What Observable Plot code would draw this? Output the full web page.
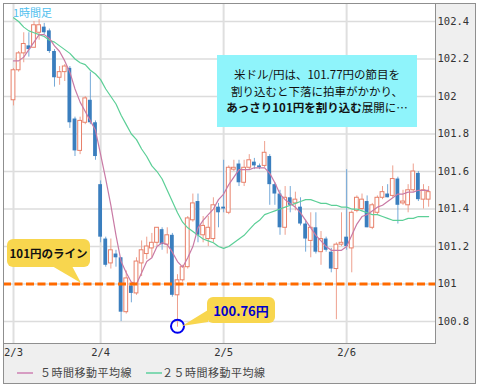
<!DOCTYPE html>
<html><head><meta charset="utf-8">
<script src="https://cdn.jsdelivr.net/npm/d3@7"></script>
<script src="https://cdn.jsdelivr.net/npm/@observablehq/plot@0.6"></script>
<style>
body{margin:0;background:#fff;}
#wrap{position:relative;width:478px;height:385px;overflow:hidden;}
#panel{position:absolute;left:3px;top:3px;width:473px;height:381px;box-sizing:border-box;border:1px solid #8f8f8f;background:#efefef;}
#chart{position:absolute;left:0;top:0;}
.jp{font-family:"Noto Sans CJK JP","Noto Sans",sans-serif;}
#tf{position:absolute;left:13px;top:4px;font-size:11px;color:#4fc0ee;}
#cyan{position:absolute;left:217px;top:55px;width:200px;height:72px;background:#8ff4fb;display:flex;flex-direction:column;justify-content:center;align-items:center;font-size:11.5px;line-height:16.8px;color:#111;}
.yb{position:absolute;background:#f8d64e;border-radius:6px;display:flex;align-items:center;justify-content:center;font-weight:bold;}
#y1{left:7px;top:239px;width:83px;height:28px;font-size:11.5px;color:#111;}
#y2{left:207px;top:297px;width:68px;height:26px;font-size:13px;color:#0000cc;}
#ptr{position:absolute;left:0;top:0;}
.lg{position:absolute;top:364px;font-size:11px;color:#444;letter-spacing:0.5px;line-height:16px;}
.ll{position:absolute;top:372px;height:1.5px;width:16px;}
</style></head>
<body>
<div id="wrap">
  <div id="panel"></div>
  <div id="chart"></div>
  <div id="tf" class="jp">1時間足</div>
  <svg id="ptr" width="478" height="385">
    <polygon points="52,266 72,266 81,283" fill="#f8d64e"/>
    <polygon points="208,310 208,322 182,326" fill="#f8d64e"/>
  </svg>
  <div id="cyan" class="jp">
    <div>米ドル/円は、101.77円の節目を</div>
    <div>割り込むと下落に拍車がかかり、</div>
    <div><b>あっさり101円を割り込む</b>展開に…</div>
  </div>
  <div id="y1" class="yb jp">101円のライン</div>
  <div id="y2" class="yb jp">100.76円</div>
  <div class="ll" style="left:17px;background:#d69cc2;"></div>
  <div class="lg jp" style="left:40px;">５時間移動平均線</div>
  <div class="ll" style="left:146px;background:#82d8b2;"></div>
  <div class="lg jp" style="left:162px;">２５時間移動平均線</div>
</div>
<script>
// Hourly candles, USD/JPY, from 2/3 07:00
const opens  = [101.98,102.14,102.23,102.27,102.26,102.34,102.37,102.35,102.24,102.10,102.13,102.15,101.88,101.71,101.86,101.98,101.86,101.53,101.24,101.11,101.16,101.14,100.85,100.99,100.95,101.11,101.16,101.19,101.22,101.29,101.21,101.26,100.94,101.02,101.09,101.34,101.44,101.26,101.24,101.24,101.41,101.41,101.38,101.61,101.64,101.54,101.62,101.65,101.63,101.63,101.68,101.53,101.48,101.30,101.46,101.43,101.41,101.32,101.23,101.30,101.17,101.24,101.17,101.08,101.21,101.25,101.19,101.39,101.40,101.44,101.30,101.38,101.46,101.48,101.47,101.56,101.43,101.42,101.50,101.59,101.45,101.45];
const highs  = [102.15,102.24,102.34,102.34,102.40,102.41,102.39,102.36,102.25,102.16,102.17,102.16,101.89,101.89,102.00,102.13,101.87,101.55,101.25,101.24,101.18,101.14,101.07,101.00,101.14,101.23,101.25,101.27,101.30,101.30,101.30,101.27,101.05,101.10,101.36,101.48,101.48,101.36,101.36,101.46,101.43,101.66,101.63,101.66,101.66,101.66,101.69,101.67,101.64,101.76,101.69,101.54,101.50,101.52,101.52,101.49,101.46,101.34,101.38,101.38,101.28,101.25,101.19,101.22,101.38,101.61,101.39,101.47,101.48,101.47,101.43,101.47,101.52,101.53,101.63,101.57,101.50,101.53,101.64,101.60,101.53,101.52];
const lows   = [101.95,102.13,102.18,102.21,102.26,102.30,102.33,102.23,102.05,102.06,102.08,101.83,101.68,101.69,101.85,101.85,101.66,101.22,101.09,101.08,101.09,100.80,100.84,100.90,100.94,101.04,101.13,101.14,101.20,101.18,101.16,100.93,100.77,101.01,101.08,101.33,101.22,101.22,101.20,101.22,101.30,101.38,101.37,101.60,101.52,101.52,101.61,101.61,101.61,101.62,101.42,101.42,101.26,101.26,101.38,101.39,101.31,101.17,101.14,101.16,101.10,101.17,101.06,100.81,101.20,101.18,101.06,101.38,101.39,101.30,101.29,101.37,101.45,101.46,101.46,101.32,101.42,101.38,101.49,101.44,101.40,101.41];
const closes = [102.14,102.23,102.28,102.25,102.38,102.38,102.34,102.24,102.10,102.13,102.16,101.86,101.71,101.87,101.99,101.86,101.68,101.25,101.10,101.18,101.14,100.85,101.03,100.95,101.12,101.18,101.20,101.22,101.30,101.21,101.26,100.94,101.02,101.09,101.35,101.43,101.26,101.31,101.30,101.42,101.38,101.40,101.62,101.62,101.54,101.62,101.66,101.63,101.62,101.70,101.53,101.48,101.30,101.46,101.42,101.45,101.32,101.24,101.30,101.17,101.24,101.18,101.08,101.21,101.22,101.20,101.38,101.46,101.45,101.30,101.42,101.46,101.49,101.46,101.56,101.42,101.44,101.50,101.60,101.45,101.50,101.49];
const ma5    = [102.19,102.19,102.21,102.25,102.29,102.33,102.33,102.31,102.27,102.24,102.19,102.13,102.04,101.97,101.92,101.87,101.82,101.69,101.56,101.42,101.26,101.12,101.06,101.01,101.00,101.06,101.12,101.14,101.20,101.22,101.21,101.17,101.12,101.09,101.14,101.20,101.30,101.34,101.37,101.40,101.45,101.48,101.53,101.57,101.61,101.61,101.61,101.62,101.62,101.62,101.59,101.54,101.48,101.45,101.43,101.41,101.38,101.34,101.30,101.26,101.23,101.20,101.18,101.18,101.18,101.20,101.26,101.32,101.36,101.37,101.39,101.41,101.42,101.44,101.46,101.48,101.48,101.49,101.49,101.50,101.50,101.50];
const ma25   = [102.42,102.40,102.37,102.35,102.34,102.33,102.32,102.30,102.29,102.27,102.25,102.23,102.20,102.18,102.17,102.14,102.12,102.09,102.04,102.00,101.96,101.90,101.85,101.80,101.77,101.72,101.68,101.63,101.60,101.56,101.50,101.44,101.38,101.33,101.30,101.28,101.26,101.24,101.23,101.22,101.20,101.19,101.20,101.22,101.24,101.26,101.29,101.32,101.34,101.37,101.38,101.39,101.40,101.41,101.42,101.43,101.44,101.45,101.45,101.44,101.43,101.43,101.42,101.42,101.41,101.41,101.40,101.40,101.39,101.38,101.37,101.37,101.36,101.35,101.34,101.34,101.34,101.35,101.35,101.36,101.36,101.36];
const dayTickIndex = [0, 17, 41, 65];
const dayLabels = ["2/3", "2/4", "2/5", "2/6"];
const yTicks = [100.8, 101, 101.2, 101.4, 101.6, 101.8, 102, 102.2, 102.4];
const lineLevel = 101;
const lowMarker = [{i: 32, v: 100.775}];

const bars = opens.map((o, i) => ({i, o, h: highs[i], l: lows[i], c: closes[i], up: closes[i] >= o}));
const upBars = bars.filter(d => d.up);
const dnBars = bars.filter(d => !d.up);
const ma5Data = ma5.map((v, i) => ({i, v}));
const ma25Data = ma25.map((v, i) => ({i, v}));
const hw = 0.37;

const chart = Plot.plot({
  width: 478, height: 360,
  marginLeft: 3, marginRight: 43, marginTop: 3, marginBottom: 17,
  style: {background: "transparent", fontFamily: "'DejaVu Sans Mono', monospace", fontSize: "10.5px", color: "#333"},
  x: {domain: [-1.95, 82.34], label: null},
  y: {domain: [100.683, 102.496], label: null},
  marks: [
    Plot.frame({fill: "white"}),
    Plot.ruleY(yTicks, {stroke: "#dcdcdc", strokeWidth: 1.5}),
    Plot.ruleX(dayTickIndex, {stroke: "#dfdfdf", strokeWidth: 2}),
    Plot.ruleX(dnBars, {x: "i", y1: "l", y2: "h", stroke: "#74a9d8", strokeWidth: 1}),
    Plot.ruleX(upBars, {x: "i", y1: "l", y2: "h", stroke: "#eea08e", strokeWidth: 1}),
    Plot.rect(dnBars, {x1: d => d.i - hw, x2: d => d.i + hw, y1: "o", y2: "c", fill: "#3a7ebe"}),
    Plot.rect(upBars, {x1: d => d.i - hw, x2: d => d.i + hw, y1: "o", y2: "c", fill: "white", stroke: "#e8806a", strokeWidth: 1}),
    Plot.line(ma25Data, {x: "i", y: "v", stroke: "#5ccf97", strokeWidth: 1.2}),
    Plot.line(ma5Data, {x: "i", y: "v", stroke: "#c97aa5", strokeWidth: 1.2}),
    Plot.ruleY([lineLevel], {stroke: "#ff6a00", strokeWidth: 3, strokeDasharray: "8,3.5"}),
    Plot.dot(lowMarker, {x: "i", y: "v", r: 6.5, stroke: "#0000ee", strokeWidth: 2, fill: "none"}),
    Plot.axisY({anchor: "right", label: null, ticks: yTicks, tickSize: 0, tickPadding: 2, tickFormat: d => String(d), fill: "#333"}),
    Plot.axisX({label: null, ticks: dayTickIndex, tickSize: 0, tickPadding: 5, tickFormat: d => dayLabels[dayTickIndex.indexOf(d)], fill: "#333"}),
    Plot.frame({stroke: "#8f8f8f"})
  ]
});
document.getElementById("chart").appendChild(chart);
</script>
</body></html>
